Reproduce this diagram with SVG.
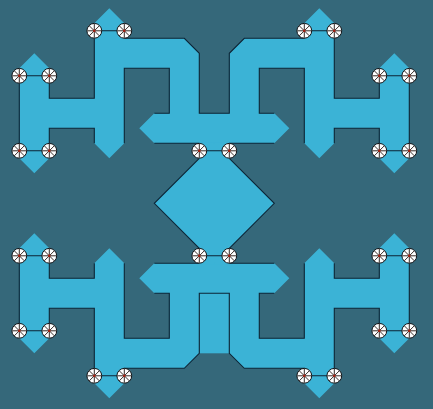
<svg xmlns="http://www.w3.org/2000/svg" xmlns:xlink="http://www.w3.org/1999/xlink" width="433" height="409" viewBox="0 0 433 409">
<style>
.fill{fill:#3bb3d6;stroke:none}
.edge{fill:none;stroke:#0c2536;stroke-width:1.1;stroke-linejoin:miter}
.pair{stroke:#0c2536;stroke-width:1.1}
.jc{fill:#ffffff;stroke:#101418;stroke-width:1}
.sp{stroke:#1e1410;stroke-width:0.9}
</style>
<defs>
<g id="j">
<circle class="jc" r="7.4"/>
<path class="sp" d="M-7,0H7M0,-7V7M-5,-5L5,5M-5,5L5,-5"/>
<circle r="1.2" fill="#b02010"/>
</g>
<g id="halfFill">
<polygon class="fill" points="30,45 45,60 45,90 90,90 90,15 105,0 120,15 120,30 180,30 195,45 195,105 225,105 225,45 240,30 300,30 300,15 315,0 330,15 330,90 375,90 375,60 390,45 405,60 405,150 390,165 375,150 375,120 330,120 330,135 315,150 300,135 300,60 255,60 255,105 270,105 285,120 270,135 150,135 135,120 150,105 165,105 165,60 120,60 120,135 105,150 90,135 90,120 45,120 45,150 30,165 15,150 15,60"/>
<rect class="fill" x="195" y="134" width="30" height="17"/>
</g>
<g id="halfEdge">
<path class="edge" d="M15,67.5V142.5M45,67.5V90H90V22.5M120,22.5V30H180L195,45V105H225V45L240,30H300V22.5M330,22.5V90H375V67.5M405,67.5V142.5M375,142.5V120H330V135M300,135V60H255V105H270M270,135H225M195,135H150M150,105H165V60H120V135M90,135V120H45V142.5"/>
</g>
<g id="halfPairs">
<path class="pair" d="M15,67.5H45M15,142.5H45M90,22.5H120M300,22.5H330M375,67.5H405M375,142.5H405M195,142.5H225"/>
</g>
<g id="halfJoints">
<use xlink:href="#j" x="15" y="67.5"/><use xlink:href="#j" x="45" y="67.5"/>
<use xlink:href="#j" x="15" y="142.5"/><use xlink:href="#j" x="45" y="142.5"/>
<use xlink:href="#j" x="90" y="22.5"/><use xlink:href="#j" x="120" y="22.5"/>
<use xlink:href="#j" x="195" y="142.5"/><use xlink:href="#j" x="225" y="142.5"/>
<use xlink:href="#j" x="300" y="22.5"/><use xlink:href="#j" x="330" y="22.5"/>
<use xlink:href="#j" x="375" y="67.5"/><use xlink:href="#j" x="405" y="67.5"/>
<use xlink:href="#j" x="375" y="142.5"/><use xlink:href="#j" x="405" y="142.5"/>
</g>
</defs>
<rect width="433" height="409" fill="#35687a"/>
<g transform="translate(4.3,8.3)">
<g id="curve-top">
<use xlink:href="#halfFill"/>
<use xlink:href="#halfEdge"/>
</g>
<g id="curve-bottom">
<g transform="matrix(1,0,0,-1,0,390)"><use xlink:href="#halfFill"/></g>
<rect class="fill" x="195" y="284" width="30" height="61"/>
<g transform="matrix(1,0,0,-1,0,390)"><use xlink:href="#halfEdge"/></g>
</g>
<g id="hub">
<polygon class="fill" points="210,135 270,195 210,255 150,195"/>
<path class="edge" d="M195,150L150,195L195,240M225,150L270,195L225,240"/>
</g>
<g id="connectors">
<use xlink:href="#halfPairs"/>
<use xlink:href="#halfPairs" transform="matrix(1,0,0,-1,0,390)"/>
</g>
<g id="joints">
<use xlink:href="#halfJoints"/>
<use xlink:href="#halfJoints" transform="matrix(1,0,0,-1,0,390)"/>
</g>
</g>
</svg>
